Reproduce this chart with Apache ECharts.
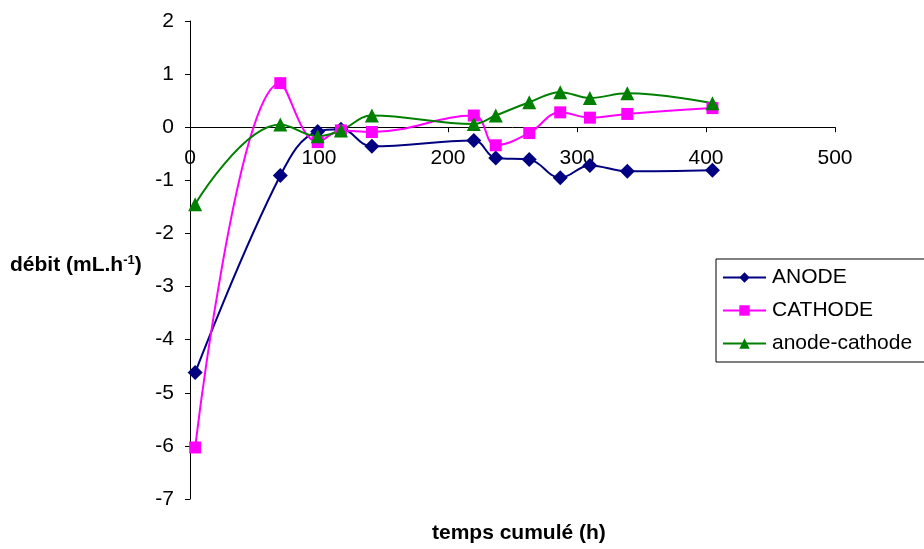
<!DOCTYPE html>
<html>
<head>
<meta charset="utf-8">
<script src="https://cdn.jsdelivr.net/npm/echarts@6/dist/echarts.min.js"></script>
<style>html,body{margin:0;padding:0;background:#fff}#c{width:924px;height:549px}</style>
</head>
<body>
<div id="c"></div>
<script>
const times = [4, 70, 99, 117, 141, 220, 237, 263, 287, 310, 339, 405];
const anode = [-4.62, -0.91, -0.08, -0.04, -0.36, -0.25, -0.58, -0.61, -0.95, -0.72, -0.83, -0.81];
const cathode = [-6.03, 0.83, -0.28, -0.06, -0.09, 0.22, -0.34, -0.11, 0.28, 0.18, 0.25, 0.36];
const anodeCathode = [-1.45, 0.05, -0.17, -0.06, 0.22, 0.06, 0.22, 0.47, 0.66, 0.55, 0.64, 0.45];
const seriesNames = ['ANODE', 'CATHODE', 'anode-cathode'];

const font = 'Liberation Sans, Arial, sans-serif';
const pairs = arr => times.map((t, i) => [t, arr[i]]);

const gridTop = 21, gridBottom = 50, H = 549;
const yMin = -7, yMax = 2;
const plotH = H - gridTop - gridBottom;
const zeroOffset = -(plotH * (0 - yMin) / (yMax - yMin));

const chart = echarts.init(document.getElementById('c'), null, {renderer: 'canvas'});
chart.setOption({
  animation: false,
  backgroundColor: '#fff',
  textStyle: {fontFamily: font},
  title: [
    {text: 'temps cumulé (h)', left: 432, top: 523, padding: 0,
     textStyle: {fontFamily: font, fontSize: 21, fontWeight: 'bold', color: '#000'}},
    {text: 'débit (mL.h{sup|-1})', left: 10, top: 254, padding: 0,
     textStyle: {fontFamily: font, fontSize: 21, fontWeight: 'bold', color: '#000',
       rich: {sup: {fontFamily: font, fontSize: 13, fontWeight: 'bold', color: '#000', padding: [0, 0, 9, 0]}}}}
  ],
  legend: {
    orient: 'vertical', left: 716, top: 259,
    padding: [8, 20, 8, 6],
    borderColor: '#000', borderWidth: 1,
    itemWidth: 43, itemHeight: 13, itemGap: 12,
    textStyle: {fontFamily: font, fontSize: 21, color: '#000', padding: [0, 0, 0, 1]},
    data: seriesNames
  },
  grid: {left: 190, right: 89, top: gridTop, bottom: gridBottom, containLabel: false},
  xAxis: {
    type: 'value', min: 0, max: 500, interval: 100,
    offset: zeroOffset,
    axisLine: {onZero: false, lineStyle: {color: '#000', width: 1}},
    axisTick: {show: true, length: 5, inside: false, lineStyle: {color: '#000'}},
    axisLabel: {fontFamily: font, fontSize: 21, color: '#000', margin: 20},
    splitLine: {show: false}
  },
  yAxis: {
    type: 'value', min: yMin, max: yMax, interval: 1,
    axisLine: {show: true, onZero: false, lineStyle: {color: '#000', width: 1}},
    axisTick: {show: true, length: 5, lineStyle: {color: '#000'}},
    axisLabel: {fontFamily: font, fontSize: 21, color: '#000', margin: 16},
    splitLine: {show: false}
  },
  series: [
    {name: seriesNames[0], type: 'line', data: pairs(anode), smooth: 0.4,
     symbol: 'diamond', symbolSize: 15,
     lineStyle: {color: '#000080', width: 2}, itemStyle: {color: '#000080'}},
    {name: seriesNames[1], type: 'line', data: pairs(cathode), smooth: 0.4,
     symbol: 'rect', symbolSize: 12,
     lineStyle: {color: '#FF00FF', width: 2}, itemStyle: {color: '#FF00FF'}},
    {name: seriesNames[2], type: 'line', data: pairs(anodeCathode), smooth: 0.4,
     symbol: 'triangle', symbolSize: 14,
     lineStyle: {color: '#008000', width: 2}, itemStyle: {color: '#008000'}}
  ]
});
</script>
</body>
</html>
